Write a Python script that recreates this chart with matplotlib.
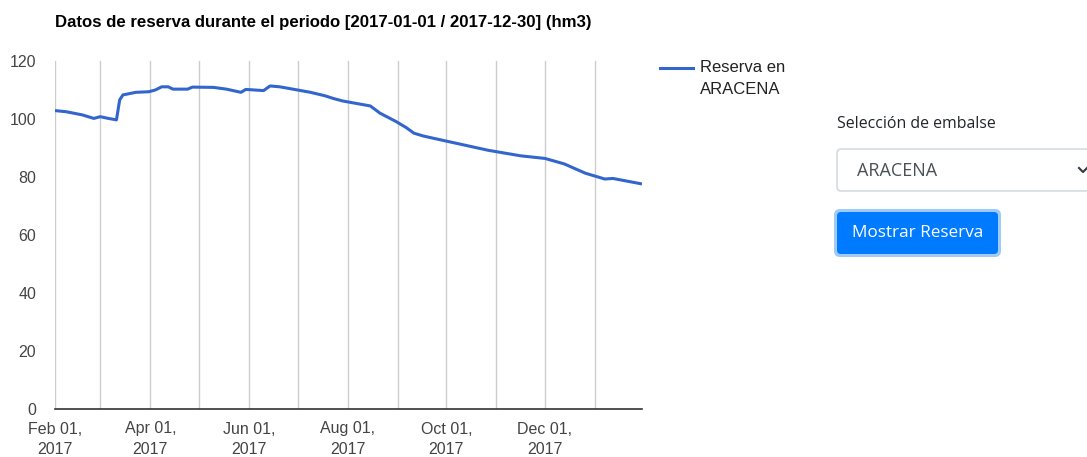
import datetime as dt
import matplotlib
matplotlib.use("Agg")
import matplotlib.pyplot as plt
from matplotlib.patches import FancyBboxPatch

# Reservoir storage readings (hm3)
dates = [
    "2017-02-01", "2017-02-08", "2017-02-18", "2017-02-25", "2017-03-01",
    "2017-03-06", "2017-03-11", "2017-03-13", "2017-03-15", "2017-03-23",
    "2017-03-31", "2017-04-04", "2017-04-08", "2017-04-12", "2017-04-15",
    "2017-04-24", "2017-04-27", "2017-05-10", "2017-05-18", "2017-05-27",
    "2017-05-30", "2017-06-10", "2017-06-14", "2017-06-20", "2017-06-28",
    "2017-07-09", "2017-07-18", "2017-07-23", "2017-07-29", "2017-08-15",
    "2017-08-21", "2017-08-31", "2017-09-06", "2017-09-11", "2017-09-17",
    "2017-09-30", "2017-10-27", "2017-11-16", "2017-12-01", "2017-12-13",
    "2017-12-26", "2018-01-07", "2018-01-12", "2018-01-30",
]
reserva = [
    102.9, 102.5, 101.4, 100.2, 100.8,
    100.2, 99.7, 106.6, 108.3, 109.2,
    109.4, 110.0, 111.1, 111.1, 110.3,
    110.3, 111.0, 110.9, 110.3, 109.2,
    110.2, 109.8, 111.4, 111.1, 110.3,
    109.2, 108.0, 107.1, 106.2, 104.5,
    102.0, 99.1, 97.1, 95.1, 94.1,
    92.5, 89.2, 87.3, 86.4, 84.5,
    81.3, 79.3, 79.5, 77.6,
]

series_label = "Reserva en\nARACENA"
title = "Datos de reserva durante el periodo [2017-01-01 / 2017-12-30] (hm3)"
y_ticks = [0, 20, 40, 60, 80, 100, 120]
month_starts = [
    "2017-02-01", "2017-03-01", "2017-04-01", "2017-05-01", "2017-06-01",
    "2017-07-01", "2017-08-01", "2017-09-01", "2017-10-01", "2017-11-01",
    "2017-12-01", "2018-01-01",
]
month_labels = [
    "Feb 01,\n2017", "", "Apr 01,\n2017", "", "Jun 01,\n2017", "",
    "Aug 01,\n2017", "", "Oct 01,\n2017", "", "Dec 01,\n2017", "",
]
x_start, x_end = "2017-02-01", "2018-01-30"

select_label = "Selección de embalse"
select_value = "ARACENA"
button_text = "Mostrar Reserva"

to_date = lambda s: dt.datetime.strptime(s, "%Y-%m-%d")
xd = [to_date(s) for s in dates]

plt.rcParams["font.family"] = ["Liberation Sans", "DejaVu Sans"]

W, H = 1087, 457
fig = plt.figure(figsize=(W / 100, H / 100), dpi=100)
fig.patch.set_facecolor("white")

ax = fig.add_axes([55 / W, 1 - 409 / H, (642 - 55) / W, (409 - 61) / H])
ax.plot(xd, reserva, color="#3366cc", lw=2.2, solid_joinstyle="round",
        solid_capstyle="butt", label=series_label, zorder=3)
ax.set_xlim(to_date(x_start), to_date(x_end))
ax.set_ylim(0, 120)

ax.set_xticks([to_date(s) for s in month_starts])
ax.set_xticklabels(month_labels, linespacing=1.45)
ax.set_yticks(y_ticks)
ax.tick_params(axis="both", length=0, labelsize=11.5, colors="#444444")
ax.tick_params(axis="x", pad=9)
ax.tick_params(axis="y", pad=13.5)
ax.grid(axis="x", color="#cccccc", lw=1)
ax.grid(axis="y", visible=False)
for side in ("top", "right", "left"):
    ax.spines[side].set_visible(False)
ax.spines["bottom"].set_color("#333333")
ax.spines["bottom"].set_linewidth(1.2)
ax.spines["bottom"].set_zorder(4)

fig.text(55 / W, 1 - 23 / H, title, fontsize=12.1, fontweight="bold",
         color="#000000", ha="left", va="center")

# Legend entry drawn to the right of the plot area
ov = fig.add_axes([0, 0, 1, 1], zorder=5)
ov.set_xlim(0, W)
ov.set_ylim(H, 0)
ov.axis("off")
ov.patch.set_alpha(0)

ov.plot([660, 693], [68, 68], color="#3366cc", lw=2.2)
ov.text(700, 68, "Reserva en", fontsize=12, color="#222222",
        ha="left", va="center")
ov.text(700, 90, "ARACENA", fontsize=12, color="#222222",
        ha="left", va="center")

# Form controls beside the chart
ov.text(837, 124, select_label, fontsize=11.4, color="#212529",
        ha="left", va="center", family=["Open Sans", "DejaVu Sans"])
ov.add_patch(FancyBboxPatch((837, 149), 270, 42,
                            boxstyle="round,pad=0,rounding_size=4",
                            facecolor="white", edgecolor="#ced4da", lw=1))
ov.text(857, 171, select_value, fontsize=13, color="#495057",
        ha="left", va="center", family=["Open Sans", "DejaVu Sans"])
ov.plot([1079, 1083, 1087], [168, 172, 168], color="#343a40", lw=1.5)

ov.add_patch(FancyBboxPatch((834, 209), 167, 48,
                            boxstyle="round,pad=0,rounding_size=6",
                            facecolor="#9fcbfa", edgecolor="none"))
ov.add_patch(FancyBboxPatch((837, 212), 161, 42,
                            boxstyle="round,pad=0,rounding_size=4",
                            facecolor="#007bff", edgecolor="none"))
ov.text(917.5, 233, button_text, fontsize=12.3, color="white",
        ha="center", va="center", family=["Open Sans", "DejaVu Sans"])

fig.savefig("out.png", dpi=100)
